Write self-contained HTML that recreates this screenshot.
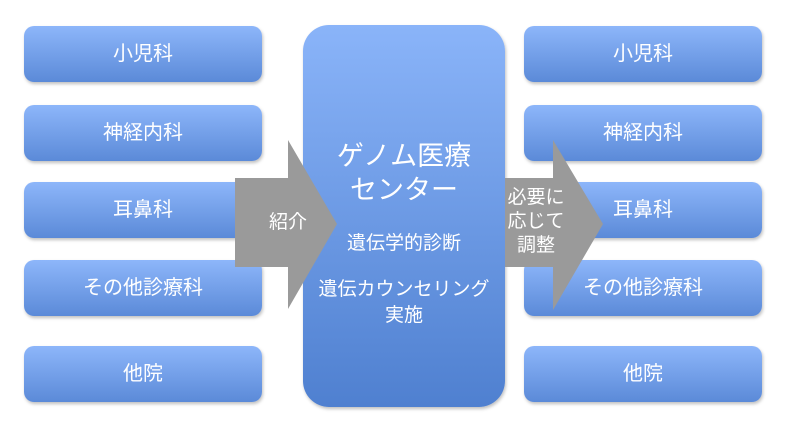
<!DOCTYPE html>
<html><head><meta charset="utf-8"><style>
body{margin:0;width:786px;height:435px;background:#fff;position:relative;overflow:hidden;font-family:"Liberation Sans","Noto Sans CJK JP",sans-serif;}
.b{position:absolute;width:238px;height:56px;border-radius:10px;background:linear-gradient(#8db6fa,#5b8ad8);box-shadow:1px 2px 3px rgba(0,0,0,.25);z-index:1}
.t{position:absolute;width:238px;height:56px;line-height:56px;text-align:center;color:#fff;font-size:20px;z-index:5}
svg{position:absolute;left:0;top:0;z-index:3}
.c{position:absolute;left:303px;top:25px;width:202px;height:382px;border-radius:26px;background:linear-gradient(#8ab4f9,#4f80d0);box-shadow:1px 2px 3px rgba(0,0,0,.25);z-index:2}
.ct{position:absolute;left:303px;top:25px;width:202px;height:382px;z-index:5;color:#fff;text-align:center}
.lab{position:absolute;color:#fff;font-size:19px;z-index:5;text-align:center;line-height:24px}
</style></head><body>
<div class="b" style="left:24px;top:26px"></div><div class="t" style="left:24px;top:26px">小児科</div>
<div class="b" style="left:24px;top:105px"></div><div class="t" style="left:24px;top:105px">神経内科</div>
<div class="b" style="left:24px;top:182px"></div><div class="t" style="left:24px;top:182px">耳鼻科</div>
<div class="b" style="left:24px;top:260px"></div><div class="t" style="left:24px;top:260px">その他診療科</div>
<div class="b" style="left:24px;top:346px"></div><div class="t" style="left:24px;top:346px">他院</div>
<div class="b" style="left:524px;top:26px"></div><div class="t" style="left:524px;top:26px">小児科</div>
<div class="b" style="left:524px;top:105px"></div><div class="t" style="left:524px;top:105px">神経内科</div>
<div class="b" style="left:524px;top:182px"></div><div class="t" style="left:524px;top:182px">耳鼻科</div>
<div class="b" style="left:524px;top:260px"></div><div class="t" style="left:524px;top:260px">その他診療科</div>
<div class="b" style="left:524px;top:346px"></div><div class="t" style="left:524px;top:346px">他院</div>
<div class="c"></div>
<svg width="786" height="435">
<polygon points="235,178 288,178 288,140 337,224 288,309 288,267 235,267" fill="#9a9a9a"/>
<polygon points="505,178 553,178 553,140 603,224 553,310 553,267 505,267" fill="#9a9a9a"/>
</svg>
<div class="lab" style="left:266px;top:211px;width:44px">紹介</div>
<div class="lab" style="left:505px;top:186px;width:62px">必要に<br>応じて<br>調整</div>
<div class="ct">
<div style="position:absolute;top:114px;width:100%;font-size:27px;line-height:34px">ゲノム医療<br>センター</div>
<div style="position:absolute;top:203px;width:100%;font-size:19px">遺伝学的診断</div>
<div style="position:absolute;top:252px;width:100%;font-size:19px;line-height:26px">遺伝カウンセリング<br>実施</div>
</div>
</body></html>
